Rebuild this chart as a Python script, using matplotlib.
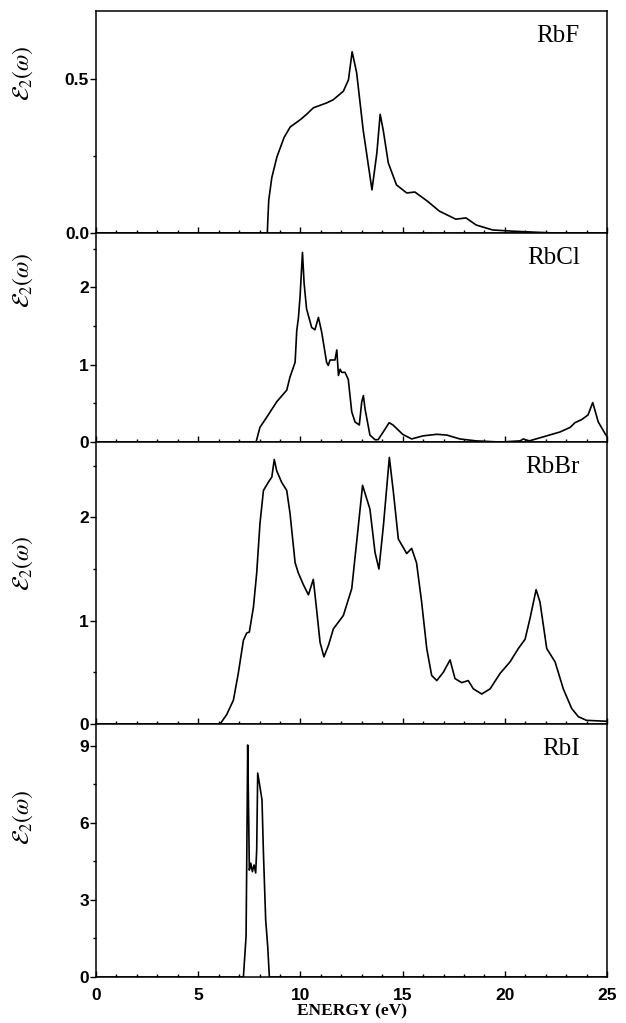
import matplotlib
matplotlib.use("Agg")
import matplotlib.pyplot as plt
from matplotlib.ticker import MultipleLocator

"""
DATA (read off the reference picture)
"""
materials = ['RbF', 'RbCl', 'RbBr', 'RbI']

rbf_e = [0, 8.38, 8.41, 8.45, 8.6, 8.85, 9.2, 9.5, 10.0, 10.3, 10.63, 11.28, 11.6,
         12.1, 12.35, 12.53, 12.75, 13.07, 13.5, 13.74, 13.9, 14.05, 14.3, 14.7,
         15.2, 15.6, 16.2, 16.8, 17.6, 18.1, 18.6, 19.4, 20.4, 21.4, 22.5, 25]
rbf_eps = [0, 0, 0.05, 0.107, 0.18, 0.247, 0.31, 0.344, 0.368, 0.385, 0.406, 0.422,
           0.432, 0.46, 0.497, 0.588, 0.52, 0.334, 0.14, 0.26, 0.385, 0.334, 0.227,
           0.156, 0.13, 0.133, 0.104, 0.071, 0.045, 0.049, 0.026, 0.01, 0.006,
           0.003, 0, 0]

rbcl_e = [0, 7.83, 8.02, 8.35, 8.84, 9.33, 9.49, 9.74, 9.82, 9.9, 9.98, 10.1, 10.18,
          10.3, 10.55, 10.71, 10.88, 11.04, 11.28, 11.36, 11.45, 11.69, 11.78, 11.86,
          11.94, 12.02, 12.18, 12.34, 12.51, 12.67, 12.88, 13.0, 13.08, 13.16, 13.4,
          13.65, 13.8, 14.05, 14.34, 14.53, 15.0, 15.44, 16.0, 16.67, 17.16, 17.8,
          18.6, 19.77, 20.75, 20.9, 21.2, 22.05, 22.7, 23.2, 23.43, 23.76, 24.07,
          24.3, 24.57, 24.9, 25.0]
rbcl_eps = [0, 0, 0.19, 0.32, 0.52, 0.67, 0.84, 1.03, 1.44, 1.6, 1.87, 2.45, 2.05,
            1.72, 1.48, 1.45, 1.61, 1.42, 1.03, 0.99, 1.06, 1.06, 1.19, 0.86, 0.94,
            0.9, 0.9, 0.81, 0.39, 0.26, 0.22, 0.52, 0.6, 0.43, 0.09, 0.03, 0.03,
            0.13, 0.25, 0.22, 0.1, 0.04, 0.08, 0.1, 0.09, 0.04, 0.015, 0.0, 0.015,
            0.04, 0.015, 0.08, 0.13, 0.19, 0.25, 0.29, 0.35, 0.51, 0.26, 0.11, 0.07]

rbbr_e = [0, 6.07, 6.39, 6.72, 6.96, 7.21, 7.37, 7.5, 7.7, 7.86, 8.02, 8.19, 8.43,
          8.6, 8.72, 8.84, 9.08, 9.33, 9.49, 9.74, 9.9, 10.14, 10.39, 10.63, 10.79,
          10.96, 11.15, 11.37, 11.61, 12.1, 12.51, 12.75, 13.04, 13.4, 13.65, 13.84,
          14.06, 14.35, 14.55, 14.79, 15.2, 15.44, 15.68, 15.93, 16.18, 16.42,
          16.67, 16.99, 17.32, 17.56, 17.89, 18.21, 18.46, 18.87, 19.28, 19.77,
          20.25, 20.66, 20.99, 21.23, 21.53, 21.72, 22.05, 22.46, 22.86, 23.27,
          23.6, 24.0, 25.0]
rbbr_eps = [0, 0, 0.09, 0.23, 0.49, 0.81, 0.88, 0.89, 1.13, 1.46, 1.94, 2.26, 2.34,
            2.39, 2.56, 2.45, 2.34, 2.26, 2.04, 1.56, 1.46, 1.35, 1.25, 1.4, 1.11,
            0.79, 0.65, 0.76, 0.92, 1.05, 1.31, 1.76, 2.31, 2.08, 1.66, 1.5, 1.92,
            2.58, 2.24, 1.79, 1.65, 1.7, 1.56, 1.18, 0.73, 0.47, 0.42, 0.5, 0.62,
            0.44, 0.4, 0.42, 0.34, 0.29, 0.34, 0.49, 0.6, 0.73, 0.82, 1.02, 1.3,
            1.18, 0.73, 0.6, 0.34, 0.15, 0.07, 0.035, 0.026]

rbi_e = [0, 7.21, 7.34, 7.37, 7.42, 7.47, 7.5, 7.57, 7.65, 7.73, 7.81, 7.86, 7.91,
         8.02, 8.12, 8.19, 8.3, 8.4, 8.48, 25]
rbi_eps = [0, 0, 1.57, 4.16, 9.03, 6.1, 4.16, 4.43, 4.1, 4.36, 4.05, 4.94, 7.94,
           7.4, 6.89, 4.82, 2.22, 1.18, 0, 0]

"""
LAYOUT
"""
plt.rcParams['font.family'] = ['Liberation Sans', 'DejaVu Sans']
plt.rcParams['mathtext.fontset'] = 'stix'

# panel boxes [left, bottom, width, height] in figure fraction
boxes = [[0.1534, 0.7722, 0.8163, 0.2170],
         [0.1534, 0.5679, 0.8163, 0.2043],
         [0.1534, 0.2923, 0.8163, 0.2757],
         [0.1534, 0.0450, 0.8163, 0.2473]]
ylims = [0.72, 2.7, 2.73, 9.85]
yticks = [[0.0, 0.5], [0, 1, 2], [0, 1, 2], [0, 3, 6, 9]]
yticklabels = [['0.0', '0.5'], ['0', '1', '2'], ['0', '1', '2'], ['0', '3', '6', '9']]
yminor = [0.25, 0.5, 0.5, 1.5]
ylabel_y = [0.72, 0.775, 0.57, 0.63]

curves = [(rbf_e, rbf_eps), (rbcl_e, rbcl_eps), (rbbr_e, rbbr_eps), (rbi_e, rbi_eps)]


def main():
    fig = plt.figure(figsize=(6.26, 10.23), dpi=100)

    for i, name in enumerate(materials):
        ax = fig.add_axes(boxes[i])
        x, y = curves[i]
        ax.plot(x, y, color='black', lw=1.2)
        ax.set_xlim(0, 25)
        ax.set_ylim(0, ylims[i])

        ax.set_yticks(yticks[i])
        ax.set_yticklabels(yticklabels[i])
        ax.yaxis.set_minor_locator(MultipleLocator(yminor[i]))
        ax.xaxis.set_major_locator(MultipleLocator(5))
        ax.xaxis.set_minor_locator(MultipleLocator(1))

        ax.tick_params(axis='y', which='major', direction='out', length=4, width=1,
                       labelsize=12.5, pad=1)
        ax.tick_params(axis='y', which='minor', direction='out', length=2, width=1)
        ax.tick_params(axis='x', which='major', direction='in', length=4, width=1,
                       labelsize=12.5, pad=8)
        ax.tick_params(axis='x', which='minor', direction='in', length=2, width=1)
        for lab in ax.get_xticklabels() + ax.get_yticklabels():
            lab.set_fontweight('bold')

        for sp in ax.spines.values():
            sp.set_linewidth(1.1)

        if i < 3:
            ax.tick_params(axis='x', labelbottom=False)
        else:
            ax.set_xlabel('ENERGY (eV)', family='Liberation Serif', fontweight='bold',
                          fontsize=12.5, labelpad=0)

        ax.set_ylabel(r'$\mathcal{E}_2(\omega)$', fontsize=17)
        ax.yaxis.set_label_coords(-0.12, ylabel_y[i])

        ax.annotate(name, xy=(0.947, 1.0), xycoords='axes fraction',
                    xytext=(0, -18), textcoords='offset points',
                    ha='right', va='center', family='Liberation Serif', fontsize=18)

    fig.savefig('out.png', dpi=100)


if __name__ == "__main__":
    main()
